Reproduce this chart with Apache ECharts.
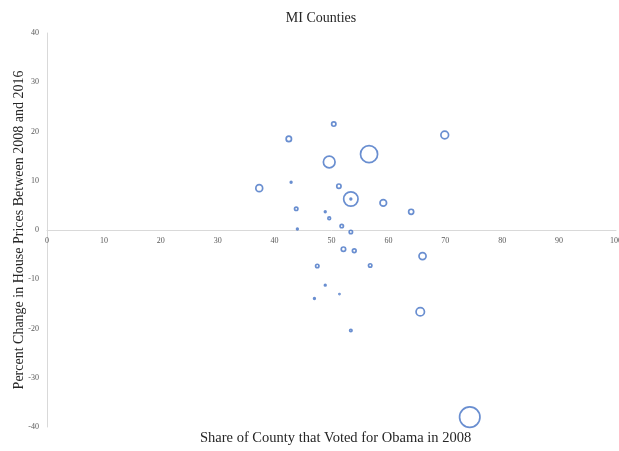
<!DOCTYPE html>
<html>
<head>
<meta charset="utf-8">
<script src="https://cdn.jsdelivr.net/npm/echarts@6/dist/echarts.min.js"></script>
<style>
html,body{margin:0;padding:0;background:#fff;}
#chart{width:619px;height:451px;}
</style>
</head>
<body>
<div id="chart"></div>
<script>
// Share of county voting for Obama in 2008 (%)
var obamaShare = [37.3, 42.5, 50.4, 69.9, 56.6, 49.6, 42.9, 51.3, 53.4, 53.4, 59.1, 64.0, 43.8, 48.9, 49.6, 51.8, 44.0, 53.4, 52.1, 54.0, 66.0, 47.5, 56.8, 48.9, 51.4, 47.0, 65.6, 53.4, 74.3];
// Percent change in house prices 2008-2016
var priceChange = [8.5, 18.5, 21.5, 19.3, 15.4, 13.8, 9.7, 8.9, 6.3, 6.3, 5.5, 3.7, 4.3, 3.7, 2.4, 0.8, 0.2, -0.4, -3.9, -4.2, -5.3, -7.3, -7.2, -11.2, -13.0, -13.9, -16.6, -20.4, -38.0];
// Bubble size value (population, thousands)
var population = [265, 180, 130, 322, 1300, 658, 40, 130, 952, 40, 250, 165, 93, 40, 70, 93, 40, 93, 135, 105, 280, 93, 93, 40, 27, 40, 372, 60, 1800];

var xTicks = {min: 0, max: 100, interval: 10};
var yTicks = {min: -40, max: 40, interval: 10};

var data = obamaShare.map(function (x, i) { return [x, priceChange[i], population[i]]; });

var serif = "'Liberation Serif', 'DejaVu Serif', serif";
var gridTop = 33, gridBottom = 24, H = 451;
var plotH = H - gridTop - gridBottom;
// offset that places the x axis (with its labels) at y = 0
var zeroOffset = -plotH * (0 - yTicks.min) / (yTicks.max - yTicks.min);

var chart = echarts.init(document.getElementById('chart'), null, {renderer: 'canvas'});
chart.setOption({
  animation: false,
  backgroundColor: '#ffffff',
  title: {
    text: 'MI Counties',
    left: 316, top: 6,
    textAlign: 'center',
    textStyle: {fontFamily: serif, fontSize: 14, fontWeight: 'normal', color: '#262626'}
  },
  grid: {left: 47, right: 3, top: gridTop, bottom: gridBottom, containLabel: false, outerBoundsMode: 'none'},
  xAxis: {
    type: 'value', min: xTicks.min, max: xTicks.max, interval: xTicks.interval,
    position: 'bottom',
    offset: zeroOffset,
    axisLine: {show: true, onZero: false, lineStyle: {color: '#d9d9d9', width: 1}},
    axisTick: {show: false},
    splitLine: {show: false},
    axisLabel: {fontFamily: serif, fontSize: 8, color: '#595959', margin: 7, showMaxLabel: true}
  },
  yAxis: {
    type: 'value', min: yTicks.min, max: yTicks.max, interval: yTicks.interval,
    axisLine: {show: true, onZero: false, lineStyle: {color: '#d9d9d9', width: 1}},
    axisTick: {show: false},
    splitLine: {show: false},
    axisLabel: {fontFamily: serif, fontSize: 8, color: '#595959', margin: 8},
    name: 'Percent Change in House Prices Between 2008 and 2016',
    nameLocation: 'middle',
    nameGap: 21,
    nameMoveOverlap: false,
    nameTextStyle: {fontFamily: serif, fontSize: 14, color: '#262626'}
  },
  graphic: [{
    type: 'text', left: 200, top: 431,
    style: {text: 'Share of County that Voted for Obama in 2008', font: '14.5px ' + serif, fill: '#262626'}
  }],
  series: [{
    type: 'scatter',
    data: data,
    symbol: 'circle',
    symbolSize: function (v) { return Math.max(1, 0.518 * Math.sqrt(v[2]) - 1.6); },
    itemStyle: {color: 'rgba(0,0,0,0)', borderColor: '#4472c4', borderWidth: 1.7}
  }]
});
</script>
</body>
</html>
